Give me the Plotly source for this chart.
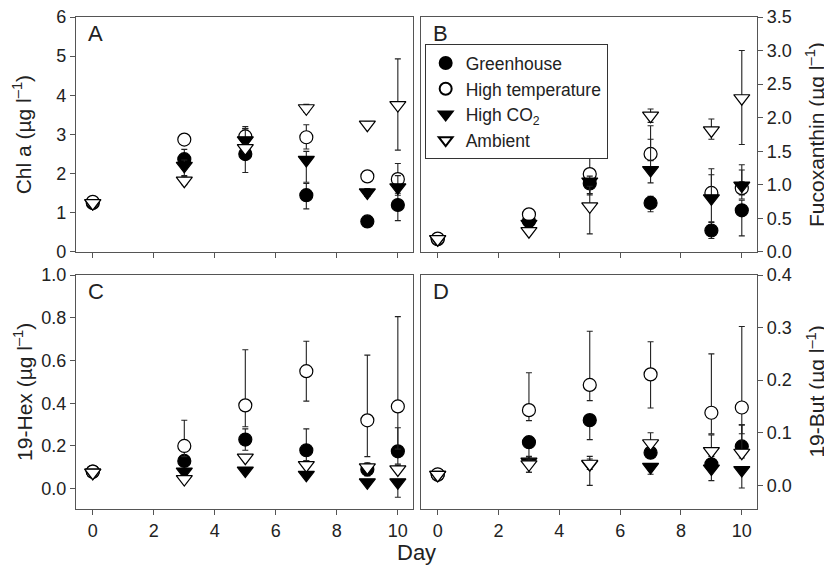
import plotly.graph_objects as go
from plotly.subplots import make_subplots

days = [0, 3, 5, 7, 9, 10]
series_names = ["Greenhouse", "High temperature", "High CO<sub>2</sub>", "Ambient"]

# Panel A: Chl a
chla_green = [1.25, 2.37, 2.50, 1.45, 0.78, 1.20]
chla_green_up = [0.05, 0.25, 0.70, 0.30, 0.10, 0.30]
chla_green_dn = [0.05, 0.25, 0.47, 0.35, 0.05, 0.40]
chla_temp = [1.28, 2.87, 2.95, 2.93, 1.93, 1.86]
chla_temp_up = [0.05, 0.10, 0.20, 0.32, 0.10, 0.40]
chla_temp_dn = [0.05, 0.10, 0.20, 0.30, 0.10, 0.10]
chla_co2 = [1.25, 2.20, 2.85, 2.35, 1.52, 1.65]
chla_co2_up = [0.05, 0.15, 0.30, 0.22, 0.10, 0.30]
chla_co2_dn = [0.05, 0.25, 0.20, 0.57, 0.10, 0.20]
chla_amb = [1.25, 1.82, 2.65, 3.67, 3.25, 3.75]
chla_amb_up = [0.05, 0.10, 0.10, 0.10, 0.08, 1.18]
chla_amb_dn = [0.05, 0.10, 0.10, 0.10, 0.05, 1.15]

# Panel B: Fucoxanthin
fuco_green = [0.19, 0.46, 1.02, 0.73, 0.32, 0.62]
fuco_green_up = [0.03, 0.05, 0.10, 0.10, 0.12, 0.15]
fuco_green_dn = [0.03, 0.05, 0.15, 0.13, 0.12, 0.38]
fuco_temp = [0.20, 0.56, 1.16, 1.46, 0.88, 0.95]
fuco_temp_up = [0.03, 0.05, 0.29, 0.42, 0.36, 0.35]
fuco_temp_dn = [0.03, 0.05, 0.10, 0.10, 0.10, 0.10]
fuco_co2 = [0.19, 0.42, 1.05, 1.22, 0.80, 0.99]
fuco_co2_up = [0.03, 0.05, 0.08, 0.46, 0.35, 0.23]
fuco_co2_dn = [0.03, 0.05, 0.20, 0.19, 0.35, 0.20]
fuco_amb = [0.19, 0.31, 0.68, 2.03, 1.81, 2.29]
fuco_amb_up = [0.03, 0.05, 0.30, 0.10, 0.17, 0.71]
fuco_amb_dn = [0.03, 0.05, 0.41, 0.10, 0.13, 0.69]

# Panel C: 19-Hex
hex_green = [0.080, 0.130, 0.230, 0.180, 0.090, 0.175]
hex_green_up = [0.01, 0.02, 0.05, 0.10, 0.02, 0.11]
hex_green_dn = [0.01, 0.02, 0.05, 0.05, 0.03, 0.06]
hex_temp = [0.080, 0.200, 0.390, 0.550, 0.320, 0.385]
hex_temp_up = [0.01, 0.12, 0.26, 0.14, 0.305, 0.42]
hex_temp_dn = [0.01, 0.05, 0.10, 0.14, 0.17, 0.20]
hex_co2 = [0.075, 0.080, 0.085, 0.065, 0.030, 0.030]
hex_co2_up = [0.01, 0.01, 0.01, 0.01, 0.01, 0.01]
hex_co2_dn = [0.01, 0.01, 0.01, 0.01, 0.01, 0.07]
hex_amb = [0.075, 0.045, 0.145, 0.110, 0.100, 0.090]
hex_amb_up = [0.01, 0.01, 0.01, 0.02, 0.02, 0.02]
hex_amb_dn = [0.01, 0.01, 0.01, 0.01, 0.01, 0.01]

# Panel D: 19-But
but_green = [0.020, 0.082, 0.124, 0.062, 0.040, 0.074]
but_green_up = [0.003, 0.010, 0.010, 0.010, 0.010, 0.041]
but_green_dn = [0.003, 0.030, 0.037, 0.010, 0.010, 0.010]
but_temp = [0.021, 0.143, 0.191, 0.211, 0.138, 0.148]
but_temp_up = [0.003, 0.071, 0.102, 0.062, 0.112, 0.154]
but_temp_dn = [0.003, 0.020, 0.030, 0.064, 0.040, 0.050]
but_co2 = [0.020, 0.045, 0.040, 0.035, 0.032, 0.029]
but_co2_up = [0.003, 0.010, 0.010, 0.005, 0.005, 0.005]
but_co2_dn = [0.003, 0.020, 0.010, 0.014, 0.023, 0.034]
but_amb = [0.020, 0.040, 0.041, 0.080, 0.065, 0.062]
but_amb_up = [0.003, 0.010, 0.014, 0.020, 0.031, 0.053]
but_amb_dn = [0.003, 0.015, 0.041, 0.010, 0.010, 0.010]

panels = [
    (1, 1, [(chla_green, chla_green_up, chla_green_dn), (chla_temp, chla_temp_up, chla_temp_dn),
            (chla_co2, chla_co2_up, chla_co2_dn), (chla_amb, chla_amb_up, chla_amb_dn)]),
    (1, 2, [(fuco_green, fuco_green_up, fuco_green_dn), (fuco_temp, fuco_temp_up, fuco_temp_dn),
            (fuco_co2, fuco_co2_up, fuco_co2_dn), (fuco_amb, fuco_amb_up, fuco_amb_dn)]),
    (2, 1, [(hex_green, hex_green_up, hex_green_dn), (hex_temp, hex_temp_up, hex_temp_dn),
            (hex_co2, hex_co2_up, hex_co2_dn), (hex_amb, hex_amb_up, hex_amb_dn)]),
    (2, 2, [(but_green, but_green_up, but_green_dn), (but_temp, but_temp_up, but_temp_dn),
            (but_co2, but_co2_up, but_co2_dn), (but_amb, but_amb_up, but_amb_dn)]),
]

symbols = ["circle", "circle", "triangle-down", "triangle-down"]
fills = ["black", "white", "black", "white"]

FONT = "Arial, Liberation Sans, sans-serif"
frame = "#555555"

fig = make_subplots(rows=2, cols=2, horizontal_spacing=0.012, vertical_spacing=0.047)

for row, col, series in panels:
    for i, (vals, up, dn) in enumerate(series):
        fig.add_trace(go.Scatter(
            x=days, y=vals, mode="markers",
            name=series_names[i],
            showlegend=(row == 1 and col == 2),
            marker=dict(symbol=symbols[i], size=13 if i < 2 else 14,
                        color=fills[i], line=dict(color="black", width=1.2)),
            error_y=dict(type="data", array=up, arrayminus=dn, symmetric=False,
                         color="#222222", thickness=1.1, width=3),
        ), row=row, col=col)

axis_common = dict(showline=True, mirror=True, linecolor=frame, linewidth=1.2,
                   ticks="outside", ticklen=5, tickcolor=frame, showgrid=False,
                   zeroline=False, automargin=False, ticklabeloverflow="allow",
                   tickfont=dict(size=18, color="#222222"))

xdom_l = [0.0, 0.495]
xdom_r = [0.5066, 1.0]
ydom_t = [0.5224, 1.0]
ydom_b = [0.0, 0.4756]

fig.update_xaxes(range=[-0.55, 10.5], tickvals=[0, 2, 4, 6, 8, 10], **axis_common)
fig.update_xaxes(showticklabels=False, row=1)
fig.update_xaxes(domain=xdom_l, col=1)
fig.update_xaxes(domain=xdom_r, col=2)
fig.update_yaxes(**axis_common)

fig.update_yaxes(domain=ydom_t, range=[0, 6], dtick=1, row=1, col=1)
fig.update_yaxes(domain=ydom_t, range=[0, 3.5], dtick=0.5, tickformat=".1f", side="right",
                 row=1, col=2)
fig.update_yaxes(domain=ydom_b, range=[-0.095, 1.0], tickvals=[0, 0.2, 0.4, 0.6, 0.8, 1.0],
                 tickformat=".1f", row=2, col=1)
fig.update_yaxes(domain=ydom_b, range=[-0.045, 0.4], tickvals=[0, 0.1, 0.2, 0.3, 0.4],
                 tickformat=".1f", side="right", row=2, col=2)

# axis titles as rotated annotations so their offset can be set exactly
ttl = dict(size=21, color="#222222")
y_titles = [
    ("Chl a (µg l<sup>–1</sup>)", -0.078, "y domain"),
    ("Fucoxanthin (µg l<sup>–1</sup>)", 1.086, "y2 domain"),
    ("19-Hex (µg l<sup>–1</sup>)", -0.078, "y3 domain"),
    ("19-But (µg l<sup>–1</sup>)", 1.086, "y4 domain"),
]
for txt, xpos, yr in y_titles:
    fig.add_annotation(text=txt, xref="paper", yref=yr, x=xpos, y=0.5,
                       xanchor="center", yanchor="middle", textangle=-90,
                       showarrow=False, font=ttl)

letters = [("A", "x domain", "y domain"), ("B", "x2 domain", "y2 domain"),
           ("C", "x3 domain", "y3 domain"), ("D", "x4 domain", "y4 domain")]
for txt, xr, yr in letters:
    fig.add_annotation(text=txt, xref=xr, yref=yr, x=0.03, y=0.99, xanchor="left",
                       yanchor="top", showarrow=False, font=dict(size=22, color="#222222"))

fig.add_annotation(text="Day", xref="paper", yref="paper", x=0.5, y=-0.088,
                   xanchor="center", yanchor="middle", showarrow=False,
                   font=dict(size=22, color="#222222"))

# the page body adds an 8px offset, so margins are shifted by that amount
fig.update_layout(
    width=832, height=565,
    margin=dict(l=68, r=83, t=9, b=64),
    paper_bgcolor="white", plot_bgcolor="white",
    font=dict(family=FONT, color="#222222"),
    legend=dict(x=0.512, y=0.945, xanchor="left", yanchor="top",
                bordercolor="#333333", borderwidth=1, bgcolor="white",
                font=dict(size=17.5), itemsizing="constant", tracegroupgap=0),
)

fig.write_html("out.html")
